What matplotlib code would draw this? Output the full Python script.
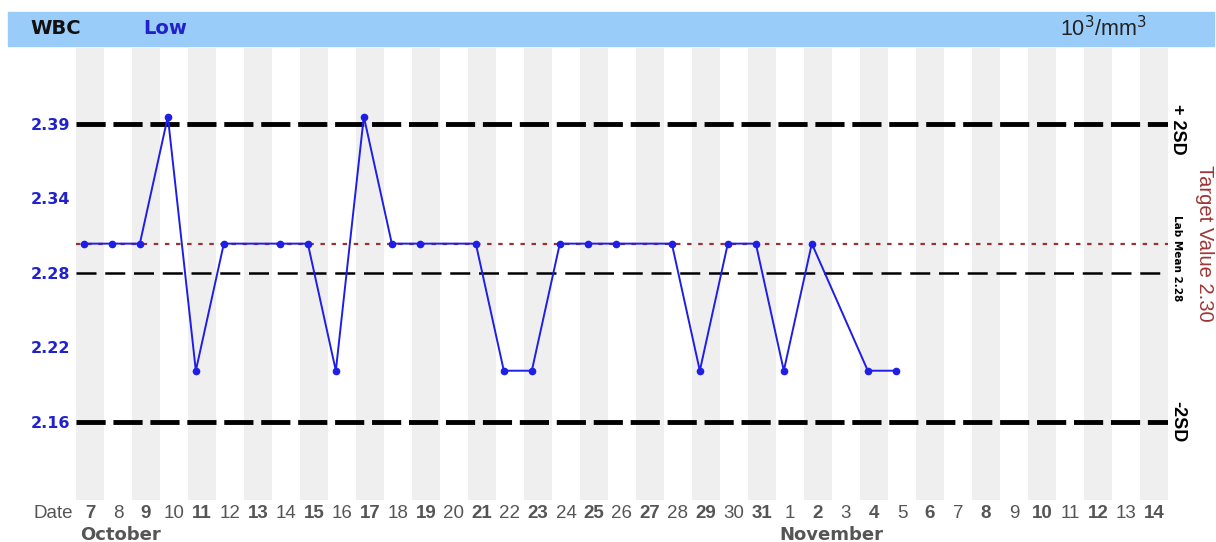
import numpy as np
import matplotlib
matplotlib.use("Agg")
from matplotlib import pyplot as plt
from matplotlib.patches import Rectangle

plt.rcParams['font.family'] = ['Liberation Sans', 'DejaVu Sans']

# dates shown on the x axis (Oct 7 .. Nov 14)
day_labels = [str(d) for d in range(7, 32)] + [str(d) for d in range(1, 15)]
month_names = ["October", "November"]
month_start_idx = [0, 25]

# measured WBC values per day (None = no run that day)
wbc = [2.30, 2.30, 2.30, 2.40, 2.20, 2.30, None, 2.30, 2.30, 2.20,
       2.40, 2.30, 2.30, None, 2.30, 2.20, 2.20, 2.30, 2.30, 2.30,
       None, 2.30, 2.20, 2.30, 2.30, 2.20, 2.30, None, 2.20, 2.20]

lab_mean = 2.277
lab_sd = 0.0586
target_value = 2.30
ytick_labels = ["2.16", "2.22", "2.28", "2.34", "2.39"]

fig = plt.figure(figsize=(12.16, 5.42), dpi=100)
ax = fig.add_axes([0.0625, 0.0775, 0.898, 0.834])

n = len(day_labels)
# alternating gray day stripes
for i in range(0, n, 2):
    ax.axvspan(i - 0.28, i + 0.72, color="#efefef", lw=0, zorder=0)

ax.axhline(lab_mean + 2 * lab_sd, color="black", lw=3.5, dashes=(6, 1.6), zorder=2)
ax.axhline(lab_mean - 2 * lab_sd, color="black", lw=3.5, dashes=(6, 1.6), zorder=2)
ax.axhline(lab_mean, color="black", lw=1.8, dashes=(8, 3.5), zorder=2)
ax.axhline(target_value, color="#993333", lw=1.6, dashes=(2, 3), zorder=2)

xs = np.array([i for i, v in enumerate(wbc) if v is not None])
ys = np.array([v for v in wbc if v is not None])
ax.plot(xs, ys, color="#1e1ee6", lw=1.4, marker="o", ms=4.5, zorder=3)

ax.set_xlim(-0.28, n - 1 + 0.72)
ax.set_ylim(lab_mean - 3.05 * lab_sd, lab_mean + 3.02 * lab_sd)
yt = [lab_mean + k * lab_sd for k in (-2, -1, 0, 1, 2)]
ax.set_yticks(yt)
ax.set_yticklabels(ytick_labels, color="#2222cc", fontweight="bold", fontsize=11.5,
                   family="DejaVu Sans")
ax.tick_params(axis="y", length=0, pad=4)
ax.set_xticks([])
for s in ax.spines.values():
    s.set_visible(False)

# x labels: alternating bold days
xtr = ax.get_xaxis_transform()
for i, lab in enumerate(day_labels):
    ax.text(i + 0.22, -0.03, lab, transform=xtr,
            ha="center", va="center", fontsize=13.5, color="#555555",
            fontweight="bold" if i % 2 == 0 else "normal")
ax.text(-0.38, -0.03, "Date", transform=xtr,
        ha="right", va="center", fontsize=13.5, color="#555555")
for name, idx in zip(month_names, month_start_idx):
    ax.text(idx - 0.15, -0.077, name, transform=xtr, family="DejaVu Sans",
            ha="left", va="center", fontsize=13, color="#555555", fontweight="bold")

# right side labels
tr = ax.get_yaxis_transform()
ax.text(1.009, lab_mean + 2 * lab_sd - 0.004, "+ 2SD", transform=tr, rotation=270,
        ha="center", va="center", fontsize=13, fontweight="bold")
ax.text(1.009, lab_mean - 2 * lab_sd, "-2SD", transform=tr, rotation=270,
        ha="center", va="center", fontsize=13, fontweight="bold")
ax.text(1.008, lab_mean + 0.2 * lab_sd, "Lab Mean 2.28", transform=tr,
        rotation=270, ha="center", va="center", fontsize=7.5, fontweight="bold",
        family="DejaVu Sans")
ax.text(1.0335, target_value, "Target Value 2.30", transform=tr, rotation=270,
        ha="center", va="center", fontsize=14.5, color="#a03535")

# header bar
fig.patches.append(Rectangle((8 / 1216, 1 - 46 / 542), 1206 / 1216, 34 / 542,
                             transform=fig.transFigure, color="#99ccf9", zorder=0))
fig.text(30 / 1216, 1 - 29 / 542, "WBC", fontsize=14, fontweight="bold",
         va="center", ha="left", color="#111111", family="DejaVu Sans")
fig.text(143 / 1216, 1 - 29 / 542, "Low", fontsize=14, fontweight="bold",
         color="#2222cc", va="center", ha="left", family="DejaVu Sans")
fig.text(1147 / 1216, 1 - 29 / 542, r"10$^3$/mm$^3$", fontsize=15.5,
         va="center", ha="right", color="#222222")

fig.savefig("out.png", dpi=100)
